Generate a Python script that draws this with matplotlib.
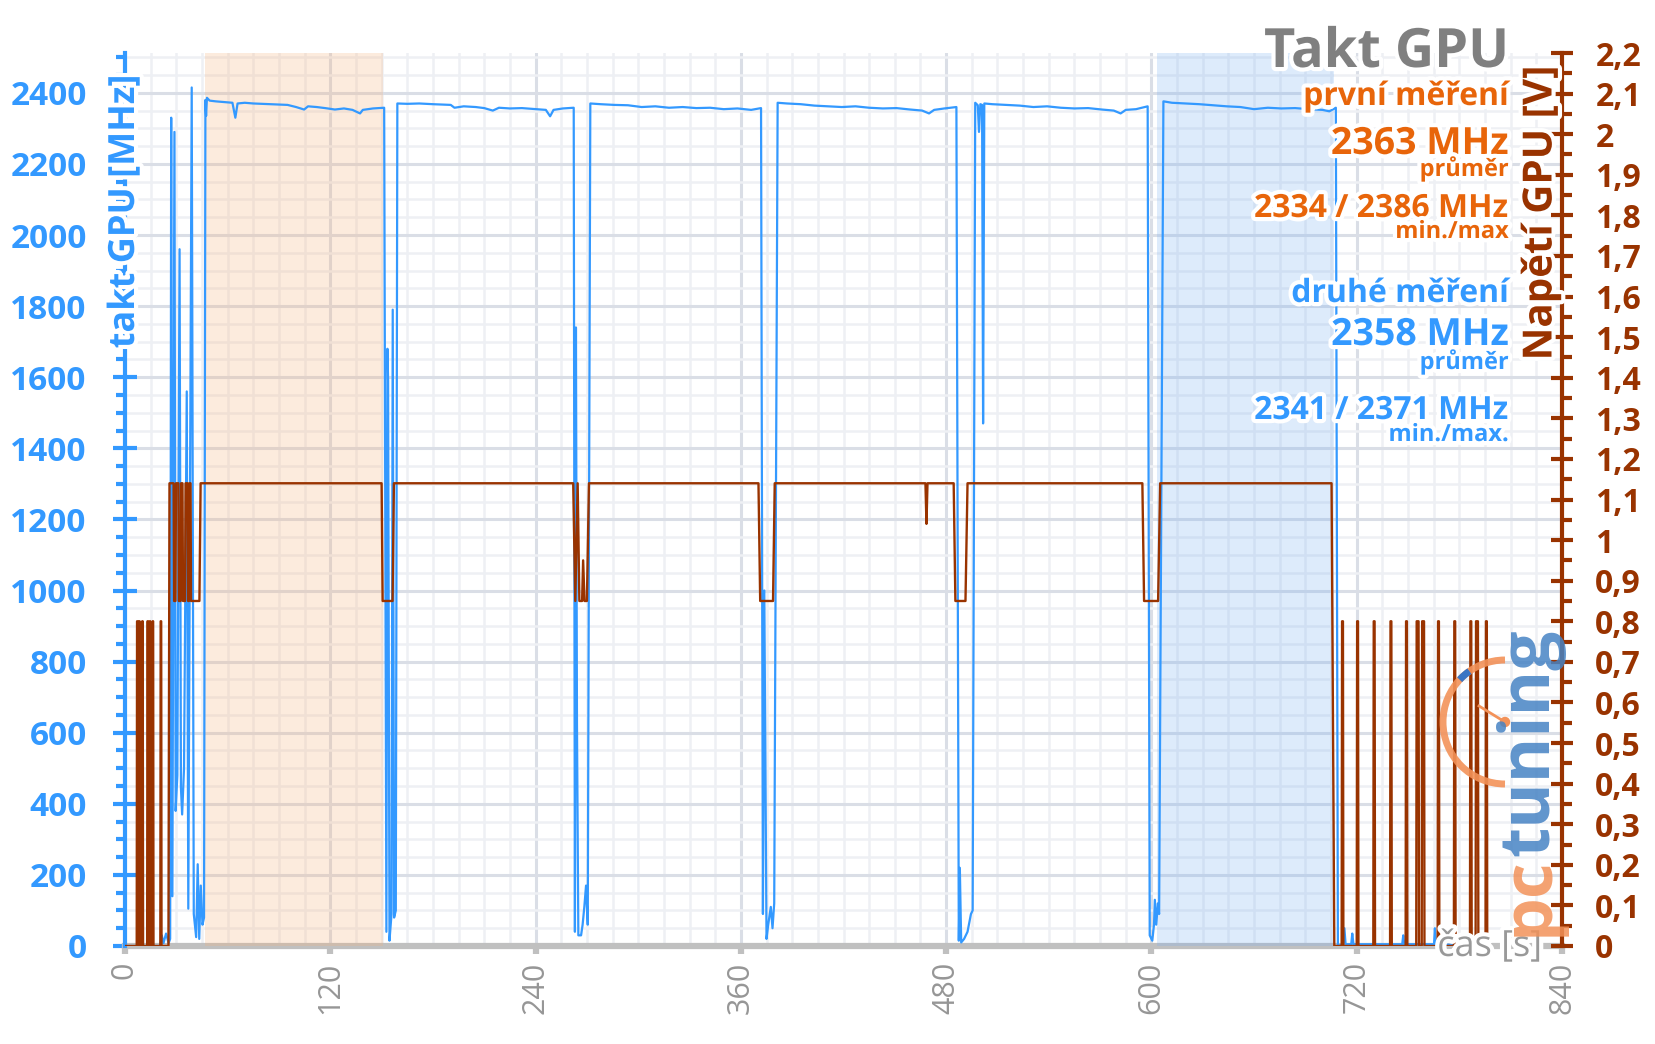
import matplotlib
matplotlib.use('Agg')
import matplotlib.pyplot as plt
import matplotlib.patheffects as pe
from matplotlib.ticker import FixedLocator, MultipleLocator, FuncFormatter
from matplotlib.patches import Arc, Circle
from matplotlib.lines import Line2D

plt.rcParams['font.family'] = ['Open Sans', 'DejaVu Sans']

BLUE = '#3399ff'
BROWN = '#993300'
ORANGE = '#e8650a'
GRAY = '#969696'

# takt GPU [MHz] v case [s]
clk_t = [0, 20.5, 21.5, 22.5, 24.0, 25.5, 26.4, 27.0, 27.7, 28.9, 29.6, 30.6, 31.9, 32.7, 33.4, 34.5,
         36.1, 37.0, 39.0, 40.2, 41.6, 42.5, 43.4, 44.3, 45.3, 46.2, 47.0, 47.4, 47.9,
         49.5, 53, 58, 62.8, 64.5, 65.8, 70, 75, 80, 84, 90, 95, 100, 104.7, 107, 112, 117,
         122.7, 128, 133, 137.4, 139, 145, 151.5,
         152.8, 153.4, 153.8, 154.6, 155.8, 156.5, 157.3, 158.3, 159.2,
         165, 172, 180, 186, 190.4, 192.6, 198, 205, 210, 215, 218.6, 225, 232, 240, 246,
         248.5, 250.5, 256, 262.3,
         263.0, 263.6, 264.2, 265.0, 266.6, 267.5, 268.5, 269.5, 270.5, 272.0,
         278, 286, 294, 302, 310, 318, 326, 334, 342, 350, 358, 366, 371.8,
         372.9, 373.7, 375.0, 376.0, 377.5, 378.5, 379.5, 381.5,
         387, 395, 403, 411, 419, 427, 435, 443, 451, 459, 466, 470, 473, 479, 486.0,
         487.4, 488.0, 488.8, 490.5, 492.5, 494.5, 495.5, 497.0,
         498.5, 499.2, 500.0, 501.0, 501.6, 502.3, 507, 515, 523, 531, 539, 547, 555, 563,
         571, 578, 582, 585, 591, 597.8,
         599.0, 600.5, 601.5, 602.0, 602.8, 603.8, 604.5, 607.0,
         612, 620, 628, 636, 644, 652, 660, 668, 676, 684, 692, 700, 704, 707.8,
         709.0, 712.0, 712.8, 713.5, 716.8, 717.4, 718.1, 746.6, 747.2, 747.8,
         765.2, 765.7, 766.3, 797]
clk_mhz = [0, 0, 30, 8, 35, 8, 20, 2330, 140, 2290, 380, 480, 1960, 445, 370, 500,
           1560, 105, 2415, 90, 25, 230, 20, 170, 60, 80, 2380, 2335, 2386,
           2378, 2376, 2374, 2372, 2330, 2370, 2372, 2370, 2369, 2368, 2367, 2366, 2360, 2353, 2362, 2360, 2357,
           2353, 2356, 2352, 2342, 2352, 2356, 2358,
           40, 1680, 1590, 15, 90, 1790, 80, 100, 2370,
           2369, 2370, 2368, 2367, 2366, 2358, 2362, 2360, 2357, 2350, 2358, 2356, 2357, 2354, 2352,
           2334, 2352, 2356, 2358,
           40, 1740, 626, 30, 30, 60, 110, 170, 60, 2370,
           2368, 2366, 2365, 2360, 2362, 2358, 2360, 2357, 2358, 2354, 2356, 2352, 2357,
           90, 1000, 20, 60, 110, 50, 120, 2372,
           2370, 2368, 2364, 2362, 2360, 2362, 2358, 2356, 2357, 2353, 2350, 2342, 2352, 2356, 2360,
           15, 220, 10, 20, 40, 90, 100, 2372,
           2365, 2290, 2368, 2366, 1470, 2370, 2368, 2366, 2364, 2360, 2362, 2358, 2356, 2357,
           2353, 2350, 2342, 2352, 2354, 2362,
           30, 15, 60, 130, 60, 120, 90, 2376,
           2372, 2370, 2368, 2365, 2362, 2360, 2354, 2358, 2356, 2357, 2354, 2352, 2348, 2358,
           0, 5, 50, 5, 5, 35, 5, 5, 30, 5,
           5, 50, 5, 0]

# napeti GPU [V] v case [s]
volt_t = [0,
          6.85, 7.05, 7.35, 7.55, 8.05, 8.25, 8.55, 8.75, 9.85, 10.05, 10.35, 10.55,
          12.95, 13.15, 13.45, 13.65, 14.25, 14.45, 14.75, 14.95, 15.95, 16.15, 16.45, 16.65,
          20.65, 20.85, 21.15, 21.35,
          25.4, 26.0, 28.4, 28.7, 29.5, 29.8, 31.2, 31.5, 32.5, 32.8, 33.6, 33.9, 35.1, 35.4,
          36.6, 36.9, 37.4, 37.7, 38.3, 38.6, 43.5, 44.2,
          150.0, 150.6, 156.4, 157.2,
          262.0, 263.2, 264.6, 265.6, 267.2, 267.8, 268.6, 270.0, 271.2,
          370.3, 371.3, 378.8, 379.8,
          467.9, 468.5, 469.1,
          484.4, 485.4, 491.3, 492.5,
          594.7, 595.7, 603.9, 605.1,
          705.3, 706.9,
          711.2, 711.45, 711.95, 712.2, 720.0, 720.25, 720.75, 721.0,
          729.7, 729.95, 730.45, 730.7, 739.5, 739.75, 740.25, 740.5,
          748.6, 748.85, 749.35, 749.6, 754.8, 755.05, 756.15, 756.4,
          758.0, 758.25, 759.35, 759.6, 767.3, 767.55, 768.05, 768.3,
          776.8, 777.05, 777.55, 777.8, 786.2, 786.45, 786.95, 787.2,
          789.5, 789.75, 790.85, 791.1, 795.3, 795.55, 796.05, 796.3]
volt_v = [0,
          0, 0.8, 0.8, 0, 0, 0.8, 0.8, 0, 0, 0.8, 0.8, 0,
          0, 0.8, 0.8, 0, 0, 0.8, 0.8, 0, 0, 0.8, 0.8, 0,
          0, 0.8, 0.8, 0,
          0, 1.14, 1.14, 0.85, 0.85, 1.14, 1.14, 0.85, 0.85, 1.14, 1.14, 0.85, 0.85, 1.14,
          1.14, 0.85, 0.85, 1.14, 1.14, 0.85, 0.85, 1.14,
          1.14, 0.85, 0.85, 1.14,
          1.14, 0.85, 1.14, 0.85, 0.85, 0.95, 0.85, 0.85, 1.14,
          1.14, 0.85, 0.85, 1.14,
          1.14, 1.04, 1.14,
          1.14, 0.85, 0.85, 1.14,
          1.14, 0.85, 0.85, 1.14,
          1.14, 0,
          0, 0.8, 0.8, 0, 0, 0.8, 0.8, 0,
          0, 0.8, 0.8, 0, 0, 0.8, 0.8, 0,
          0, 0.8, 0.8, 0, 0, 0.8, 0.8, 0,
          0, 0.8, 0.8, 0, 0, 0.8, 0.8, 0,
          0, 0.8, 0.8, 0, 0, 0.8, 0.8, 0,
          0, 0.8, 0.8, 0, 0, 0.8, 0.8, 0]

# vyznacene useky obou mereni
band_first = (46.6, 151.0)
band_second = (603.5, 706.5)

x_ticks = [0, 120, 240, 360, 480, 600, 720, 840]

title = 'Takt GPU'
first_lines = ['první měření', '2363 MHz', 'průměr', '2334 / 2386 MHz', 'min./max']
second_lines = ['druhé měření', '2358 MHz', 'průměr', '2341 / 2371 MHz', 'min./max.']

W, H = 1656, 1044
fig = plt.figure(figsize=(W / 100, H / 100), dpi=100)
ax = fig.add_axes([125 / W, 1 - 946 / H, (1562 - 125) / W, (946 - 53) / H])
ax2 = ax.twinx()

ax.set_xlim(0, 840)
ax.set_ylim(0, 2512)
ax2.set_ylim(0, 2.2)

# mrizka
ax.set_axisbelow(True)
ax.xaxis.set_major_locator(FixedLocator(x_ticks))
ax.xaxis.set_minor_locator(MultipleLocator(15))
ax.yaxis.set_major_locator(MultipleLocator(200))
ax.yaxis.set_minor_locator(MultipleLocator(50))
ax.grid(True, which='major', color='#dadee6', lw=2.2)
ax.grid(True, which='minor', color='#eef0f4', lw=1.8)

# podbarveni useku
ax.axvspan(*band_first, color='#f7b27a', alpha=0.25, lw=0, zorder=1.5)
ax.axvspan(*band_second, color='#7ab0f2', alpha=0.25, lw=0, zorder=1.5)
ax.axhline(0, color='#c0c0c0', lw=4.5, zorder=1.2, clip_on=False)

ax.plot(clk_t, clk_mhz, color=BLUE, lw=1.6, zorder=3)
ax2.plot(volt_t, volt_v, color=BROWN, lw=1.7, zorder=3)

for s in ['top', 'right', 'bottom']:
    ax.spines[s].set_visible(False)
for s in ['top', 'left', 'bottom']:
    ax2.spines[s].set_visible(False)
ax.spines['left'].set_color(BLUE)
ax.spines['left'].set_linewidth(3)
ax2.spines['right'].set_color(BROWN)
ax2.spines['right'].set_linewidth(3)

ax.tick_params(axis='x', which='major', direction='out', length=6, width=4.5, color='#c0c0c0',
               labelcolor=GRAY, labelsize=22, labelrotation=90, pad=5)
ax.tick_params(axis='x', which='minor', length=0)
ax.tick_params(axis='y', which='major', direction='inout', length=17, width=3, color=BLUE,
               labelcolor=BLUE, labelsize=24, pad=19)
ax.tick_params(axis='y', which='minor', direction='out', length=6.5, width=3, color=BLUE)

ax2.yaxis.set_major_locator(FixedLocator([i / 10 for i in range(23)]))
ax2.yaxis.set_minor_locator(FixedLocator([i / 20 for i in range(1, 44, 2)]))
ax2.yaxis.set_major_formatter(FuncFormatter(
    lambda v, pos: f'{v:.1f}'.rstrip('0').rstrip('.').replace('.', ',')))
ax2.tick_params(axis='y', which='major', direction='inout', length=16, width=3, color=BROWN,
                labelcolor=BROWN, labelsize=23, pad=16)
ax2.tick_params(axis='y', which='minor', direction='out', length=7, width=3, color=BROWN)

plt.setp(ax.get_yticklabels(), fontweight='bold')
plt.setp(ax2.get_yticklabels(), fontweight='bold')

glow = [pe.withStroke(linewidth=6, foreground='white')]

# popisky os
fig.text(125 / W, 1 - 74 / H, 'takt GPU [MHz]', rotation=90, ha='center', va='top', color=BLUE,
         fontsize=26, fontweight='bold', path_effects=glow)
fig.text(1541 / W, 1 - 66 / H, 'Napětí GPU [V]', rotation=90, ha='center', va='top', color=BROWN,
         fontsize=29, fontweight='bold', path_effects=glow)
fig.text(1542 / W, 1 - 947 / H, 'čas [s]', ha='right', va='center', color='#999999',
         fontsize=26, path_effects=glow)

# souhrn vpravo nahore
xr = 1509 / W
fig.text(xr, 1 - 67 / H, title, ha='right', va='baseline', color='#808080', fontsize=39,
         fontweight='bold', path_effects=glow)
sizes = [23, 27, 17, 23, 17]
base_first = [105, 154, 176, 217, 238]
base_second = [302, 345, 369, 419, 441]
for txt, fs, b in zip(first_lines, sizes, base_first):
    fig.text(xr, 1 - b / H, txt, ha='right', va='baseline', color=ORANGE, fontsize=fs,
             fontweight='bold', path_effects=glow)
for txt, fs, b in zip(second_lines, sizes, base_second):
    fig.text(xr, 1 - b / H, txt, ha='right', va='baseline', color=BLUE, fontsize=fs,
             fontweight='bold', path_effects=glow)

# logo pctuning
rend = fig.canvas.get_renderer()
pc = fig.text(1530 / W, 1 - 936 / H, 'pc', rotation=90, ha='center', va='bottom', color='#f39259',
              fontsize=50, fontweight='bold', alpha=0.85)
bb = pc.get_window_extent(rend)
fig.text(1530 / W, bb.y1 / H, 'tuning', rotation=90, ha='center', va='bottom', color='#4683c4',
         fontsize=50, fontweight='bold', alpha=0.85)
cx, cy = 15.05, (H - 722) / 100
fig.add_artist(Arc((cx, cy), 1.24, 1.24, theta1=90, theta2=270, color='#f39259', lw=5,
                   alpha=0.9, transform=fig.dpi_scale_trans))
fig.add_artist(Arc((cx, cy), 1.24, 1.24, theta1=125, theta2=137, color='#3a75c4', lw=5,
                   transform=fig.dpi_scale_trans))
fig.add_artist(Line2D([cx, cx - 0.26], [cy, cy + 0.16], color='#f39259', lw=2,
                      transform=fig.dpi_scale_trans))
fig.add_artist(Circle((cx, cy), 0.045, color='#f39259', transform=fig.dpi_scale_trans))

fig.savefig('out.png', dpi=100)
